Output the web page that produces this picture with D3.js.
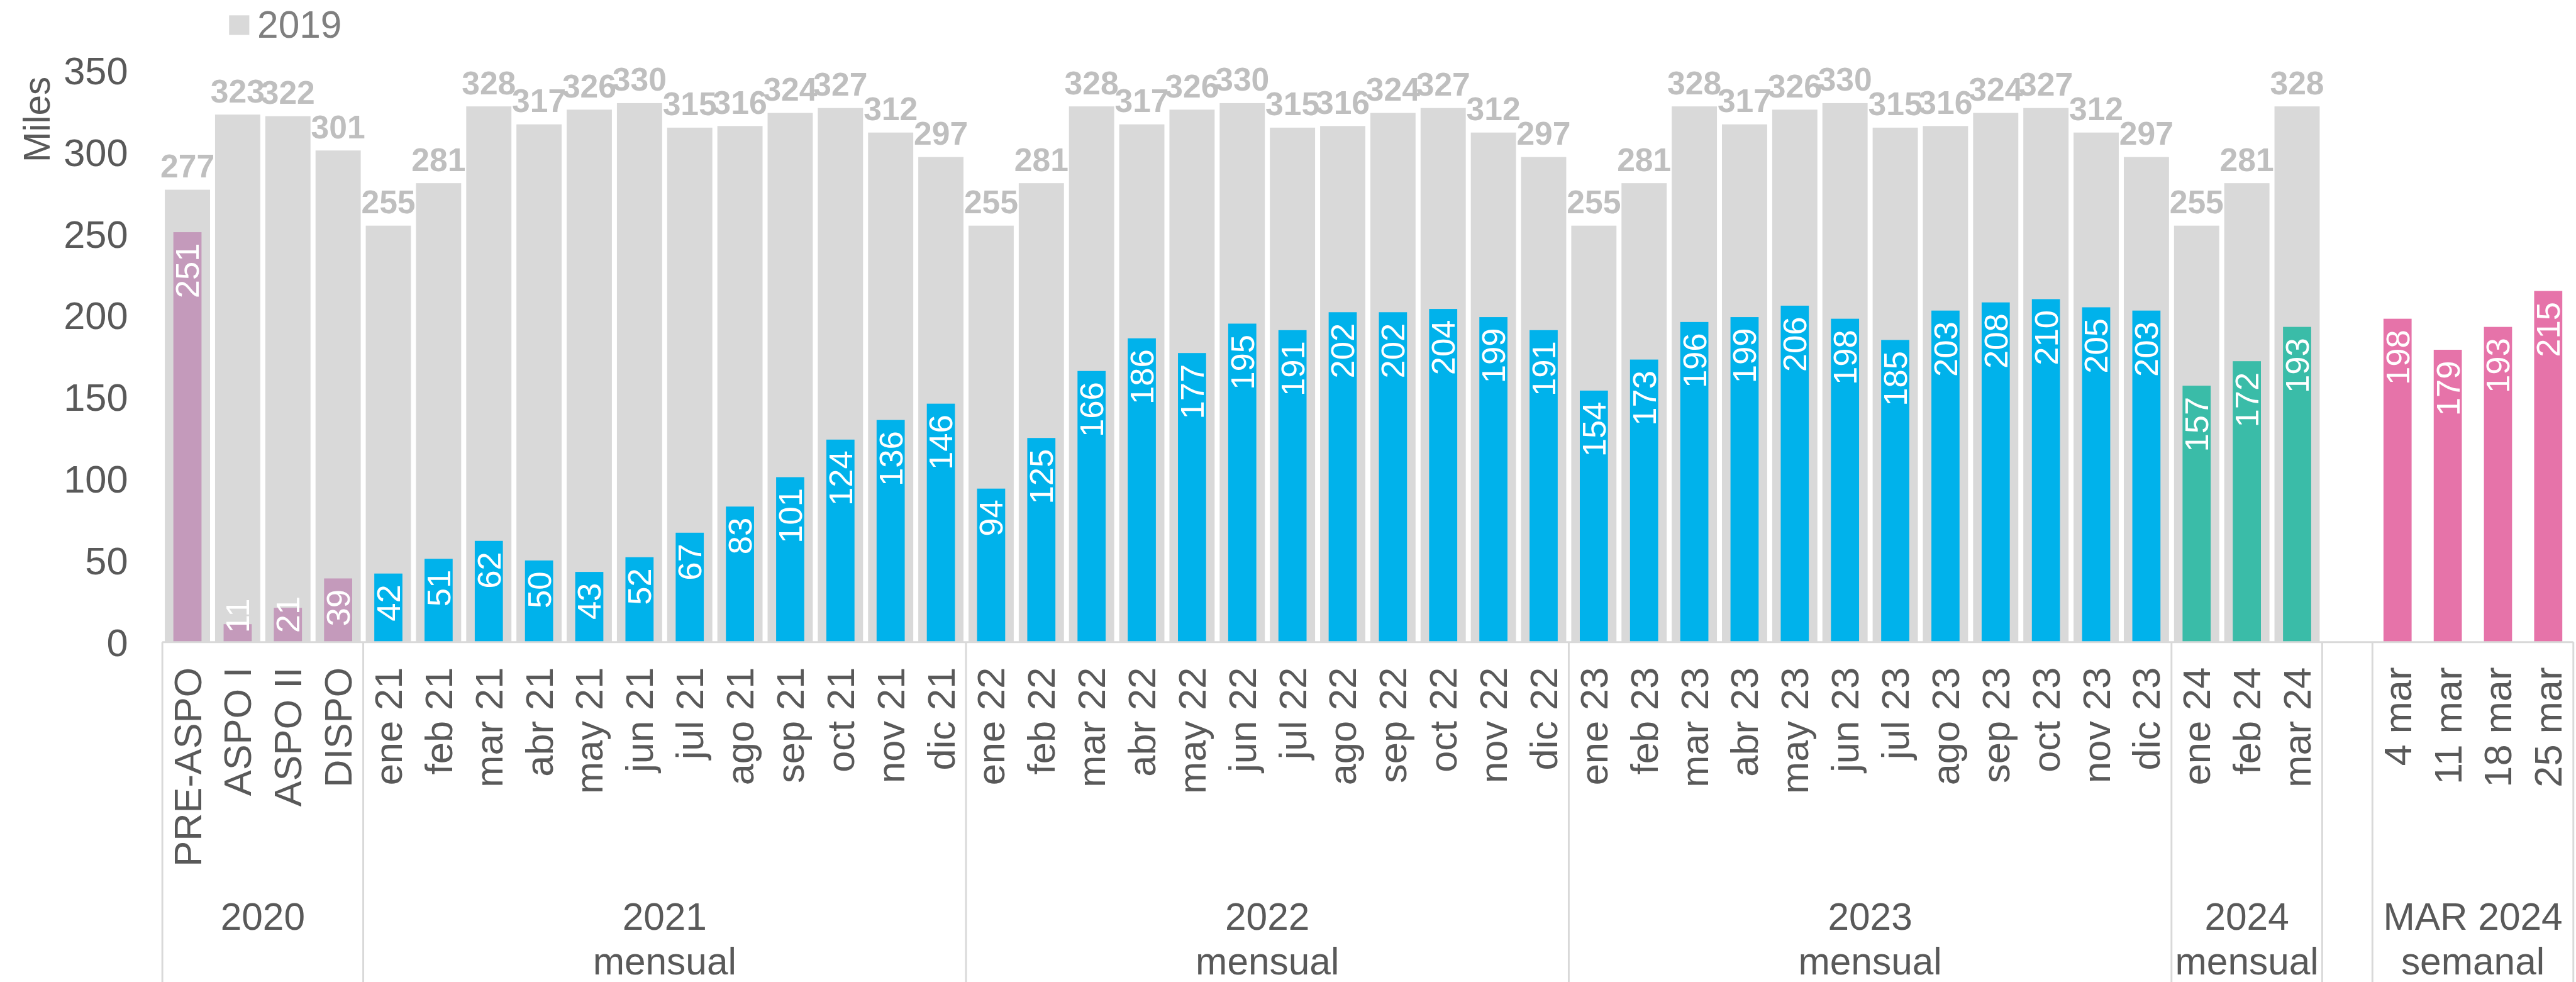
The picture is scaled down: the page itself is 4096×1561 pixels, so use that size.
<!DOCTYPE html>
<html>
<head>
<meta charset="utf-8">
<script src="https://d3js.org/d3.v7.min.js"></script>
<style>
  html, body { margin: 0; padding: 0; background: #fff; }
  svg { display: block; }
  text { font-family: "Liberation Sans", Arial, sans-serif; }
</style>
</head>
<body>
<div id="chart"></div>
<script>
// categories on the x axis (blank one is the gap before the weekly bars)
var categories = [
  "PRE-ASPO", "ASPO I", "ASPO II", "DISPO",
  "ene 21", "feb 21", "mar 21", "abr 21", "may 21", "jun 21", "jul 21", "ago 21", "sep 21", "oct 21", "nov 21", "dic 21",
  "ene 22", "feb 22", "mar 22", "abr 22", "may 22", "jun 22", "jul 22", "ago 22", "sep 22", "oct 22", "nov 22", "dic 22",
  "ene 23", "feb 23", "mar 23", "abr 23", "may 23", "jun 23", "jul 23", "ago 23", "sep 23", "oct 23", "nov 23", "dic 23",
  "ene 24", "feb 24", "mar 24",
  "",
  "4 mar", "11 mar", "18 mar", "25 mar"
];

// 2019 reference (grey)
var values2019 = [
  277, 323, 322, 301,
  255, 281, 328, 317, 326, 330, 315, 316, 324, 327, 312, 297,
  255, 281, 328, 317, 326, 330, 315, 316, 324, 327, 312, 297,
  255, 281, 328, 317, 326, 330, 315, 316, 324, 327, 312, 297,
  255, 281, 328,
  null,
  null, null, null, null
];

// actual values (coloured)
var valuesActual = [
  251, 11, 21, 39,
  42, 51, 62, 50, 43, 52, 67, 83, 101, 124, 136, 146,
  94, 125, 166, 186, 177, 195, 191, 202, 202, 204, 199, 191,
  154, 173, 196, 199, 206, 198, 185, 203, 208, 210, 205, 203,
  157, 172, 193,
  null,
  198, 179, 193, 215
];

var groupSizes = [4, 12, 12, 12, 3, 1, 4];
var groupLabels = [["2020"], ["2021", "mensual"], ["2022", "mensual"], ["2023", "mensual"], ["2024", "mensual"], [], ["MAR 2024", "semanal"]];
var yTicks = [0, 50, 100, 150, 200, 250, 300, 350];
var legendLabel = "2019";
var yTitle = "Miles";

// styles
var groupColors = ["#c49abb", "#00b2eb", "#00b2eb", "#00b2eb", "#3abca8", "#ffffff", "#e673a9"];
var greyBar = "#d9d9d9";
var textDark = "#595959";

var svgWidth = 4096, svgHeight = 1561;
var k = 0.974; // reference drawn at 4204 wide

var svg = d3.select("#chart").append("svg")
  .attr("width", svgWidth)
  .attr("height", svgHeight);

var chartGroup = svg.append("g").attr("transform", `scale(${k})`);

var x = d3.scaleBand()
  .domain(categories)
  .range([265, 4201])
  .paddingInner(0.1)
  .paddingOuter(0.05);

var y = d3.scaleLinear()
  .domain([0, 350])
  .range([1048, 115]);

var baseY = y(0);
var step = x.step();

// colour per category from its group
var catColor = [];
groupSizes.forEach(function (n, g) {
  for (var i = 0; i < n; i++) catColor.push(groupColors[g]);
});

var data = categories.map(function (c, i) {
  return { cat: c, ref: values2019[i], val: valuesActual[i], color: catColor[i] };
});

// y axis labels
var leftAxis = d3.axisLeft(y).tickValues(yTicks).tickSize(0).tickPadding(0);
var yAxisG = chartGroup.append("g")
  .attr("transform", "translate(209,0)")
  .call(leftAxis);
yAxisG.select(".domain").remove();
yAxisG.selectAll("text")
  .attr("font-family", "Liberation Sans, Arial, sans-serif")
  .attr("font-size", 63)
  .attr("fill", textDark)
  .attr("dy", "0.35em");

chartGroup.append("text")
  .attr("transform", "translate(60,195) rotate(-90)")
  .attr("text-anchor", "middle")
  .attr("dy", "0.35em")
  .attr("font-size", 60)
  .attr("fill", textDark)
  .text(yTitle);

// legend
chartGroup.append("rect")
  .attr("x", 374).attr("y", 25)
  .attr("width", 33).attr("height", 32)
  .attr("fill", greyBar);
chartGroup.append("text")
  .attr("x", 420).attr("y", 62)
  .attr("font-size", 62)
  .attr("fill", "#7f7f7f")
  .text(legendLabel);

// grey 2019 bars
var refData = data.filter(d => d.ref != null);
chartGroup.selectAll(".ref")
  .data(refData)
  .enter()
  .append("rect")
  .attr("class", "ref")
  .attr("x", d => x(d.cat))
  .attr("y", d => y(d.ref))
  .attr("width", x.bandwidth())
  .attr("height", d => baseY - y(d.ref))
  .attr("fill", greyBar);

// actual bars
var barW = step * 0.56;
var valData = data.filter(d => d.val != null);
chartGroup.selectAll(".val")
  .data(valData)
  .enter()
  .append("rect")
  .attr("class", "val")
  .attr("x", d => x(d.cat) + x.bandwidth() / 2 - barW / 2)
  .attr("y", d => y(d.val))
  .attr("width", barW)
  .attr("height", d => baseY - y(d.val))
  .attr("fill", d => d.color);

// grey labels above 2019 bars
chartGroup.selectAll(".refLabel")
  .data(refData)
  .enter()
  .append("text")
  .attr("class", "refLabel")
  .attr("x", d => x(d.cat) + x.bandwidth() / 2)
  .attr("y", d => y(d.ref) - 20)
  .attr("text-anchor", "middle")
  .attr("font-size", 53)
  .attr("font-weight", "bold")
  .attr("fill", "#bfbfbf")
  .text(d => d.ref);

// white rotated labels inside the coloured bars
chartGroup.selectAll(".valLabel")
  .data(valData)
  .enter()
  .append("text")
  .attr("class", "valLabel")
  .attr("text-anchor", "end")
  .attr("dy", "0.35em")
  .attr("font-size", 54)
  .attr("fill", "#ffffff")
  .text(d => d.val)
  .attr("transform", function (d) {
    var len = this.getComputedTextLength();
    var endY = y(d.val) + 18;
    if (endY + len > baseY - 15) endY = baseY - 15 - len;
    return `translate(${x(d.cat) + x.bandwidth() / 2},${endY}) rotate(-90)`;
  });

// x axis category labels
var bottomAxis = d3.axisBottom(x).tickSize(0);
var xAxisG = chartGroup.append("g")
  .attr("transform", `translate(0,${baseY})`)
  .call(bottomAxis);
xAxisG.select(".domain").remove();
xAxisG.selectAll("text")
  .attr("font-family", "Liberation Sans, Arial, sans-serif")
  .attr("font-size", 63)
  .attr("fill", textDark)
  .attr("text-anchor", "end")
  .attr("transform", "rotate(-90)")
  .attr("x", -41)
  .attr("y", 0)
  .attr("dy", "0.35em");

// axis base line and group separators
var x0 = x.range()[0], x1 = x.range()[1];
chartGroup.append("line")
  .attr("x1", x0).attr("x2", x1)
  .attr("y1", baseY).attr("y2", baseY)
  .attr("stroke", greyBar)
  .attr("stroke-width", 3);

var bounds = [0];
groupSizes.forEach(function (n) { bounds.push(bounds[bounds.length - 1] + n); });

chartGroup.selectAll(".sep")
  .data(bounds)
  .enter()
  .append("line")
  .attr("class", "sep")
  .attr("x1", b => x0 + b * step)
  .attr("x2", b => x0 + b * step)
  .attr("y1", baseY)
  .attr("y2", 1610)
  .attr("stroke", greyBar)
  .attr("stroke-width", 3);

// group labels
groupLabels.forEach(function (lines, g) {
  var cx = x0 + (bounds[g] + bounds[g + 1]) / 2 * step;
  lines.forEach(function (t, j) {
    chartGroup.append("text")
      .attr("x", cx)
      .attr("y", 1517 + j * 73)
      .attr("text-anchor", "middle")
      .attr("font-size", 62)
      .attr("fill", textDark)
      .text(t);
  });
});
</script>
</body>
</html>
